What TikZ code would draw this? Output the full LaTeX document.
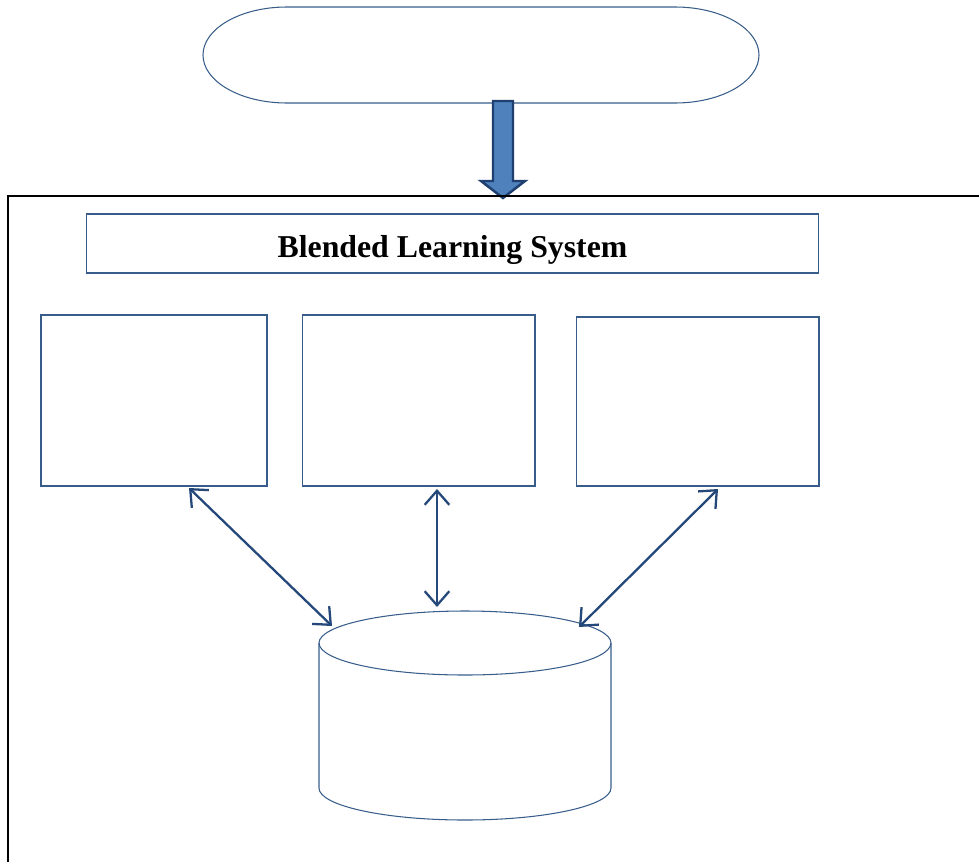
\documentclass[tikz,border=0pt]{standalone}
\usepackage{fontspec}
\setmainfont{Liberation Serif}
\usetikzlibrary{arrows.meta}
\definecolor{lineblue}{HTML}{385D8A}
\definecolor{arrowblue}{HTML}{4F81BD}
\definecolor{arrowdark}{HTML}{1F3F70}
\definecolor{linkblue}{HTML}{24487A}
\begin{document}
\begin{tikzpicture}[x=0.02cm, y=-0.02cm,
  every node/.style={inner sep=0pt, outer sep=0pt},
  panel/.style={draw=lineblue, line width=0.6pt, rectangle},
  link/.style={draw=linkblue, line width=1.3pt, {Straight Barb[length=8pt,width=14pt]}-{Straight Barb[length=8pt,width=14pt]}}]
  \useasboundingbox (0,0) rectangle (979,862);

  % start terminal
  \node[minimum width=11.12cm, minimum height=1.92cm] (start) at (481,55) {};
  \draw[lineblue, line width=0.6pt] (287,7) -- (675,7) arc[start angle=-90, end angle=90, x radius=84, y radius=48]
    -- (287,103) arc[start angle=90, end angle=270, x radius=84, y radius=48] -- cycle;
  \draw[draw=arrowdark, fill=arrowblue, line width=1.4pt]
    (493,101) -- (513,101) -- (513,181) -- (525,181) -- (503,198) -- (481,181) -- (493,181) -- cycle;

  % outer frame
  \draw[black, line width=0.8pt] (8,862) -- (8,196) -- (979,196);

  \node[panel, minimum width=14.66cm, minimum height=1.18cm] (title) at (452.5,243.5) {};
  \node[anchor=base, font=\fontsize{18.1}{22}\selectfont\bfseries] (titletext) at (452.5,257) {Blended Learning System};

  \node[panel, minimum width=4.52cm, minimum height=3.42cm] (box1) at (154,400.5) {};
  \node[panel, minimum width=4.66cm, minimum height=3.42cm] (box2) at (418.5,400.5) {};
  \node[panel, minimum width=4.86cm, minimum height=3.38cm] (box3) at (697.5,401.5) {};

  % database
  \draw[lineblue, line width=0.6pt] (319,643) -- (319,788) arc[start angle=180, end angle=0, x radius=146, y radius=32] -- (611,643);
  \draw[lineblue, line width=0.6pt] (465,643) ellipse[x radius=146, y radius=32];
  \node (db) at (465,715) {};

  \coordinate (a1) at (189,488);
  \coordinate (b1) at (332,626);
  \coordinate (a2) at (437,489);
  \coordinate (b2) at (437,607);
  \coordinate (a3) at (718,489);
  \coordinate (b3) at (579,627);
  \draw[link] (a1) -- (b1);
  \draw[link] (a2) -- (b2);
  \draw[link] (a3) -- (b3);
\end{tikzpicture}
\end{document}
